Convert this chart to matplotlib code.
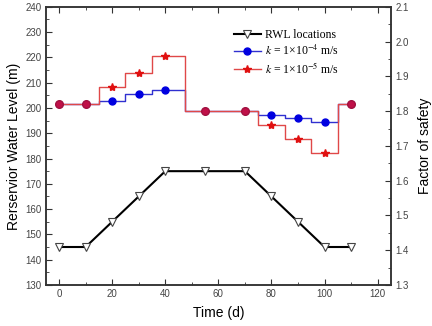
import matplotlib.pyplot as plt
from matplotlib.ticker import MultipleLocator

plt.rcParams['font.family'] = ['Liberation Sans', 'DejaVu Sans']
plt.rcParams['mathtext.fontset'] = 'stix'

time = [0, 10, 20, 30, 40, 55, 70, 80, 90, 100, 110]
rwl = [145, 145, 155, 165, 175, 175, 175, 165, 155, 145, 145]
fs_k4 = [1.82, 1.82, 1.83, 1.85, 1.86, 1.80, 1.80, 1.79, 1.78, 1.77, 1.82]
fs_k5 = [1.82, 1.82, 1.87, 1.91, 1.96, 1.80, 1.80, 1.76, 1.72, 1.68, 1.82]
shared = [0, 1, 5, 6, 10]
own = [2, 3, 4, 7, 8, 9]

fig = plt.figure(figsize=(4.32, 3.26), dpi=100)
ax = fig.add_axes([0.106, 0.126, 0.799, 0.853])
ax2 = ax.twinx()

ln1, = ax.plot(time, rwl, color='black', lw=1.5, marker='v', ms=6,
               mfc='white', mec='#444444', mew=0.8)

ln2, = ax2.plot(time, fs_k4, color='#3030d0', lw=1.0, drawstyle='steps-mid',
                marker='o', ms=5, mfc='#0000e0', mec='#0000e0', markevery=own)
ln3, = ax2.plot(time, fs_k5, color='#e04848', lw=1.0, drawstyle='steps-mid',
                marker='*', ms=6, mfc='#e01010', mec='#e01010', markevery=own)
ax2.plot([time[i] for i in shared], [fs_k5[i] for i in shared], ls='none',
         marker='o', ms=5.5, mfc='#c01048', mec='#a01040')

ax.set_xlim(-5, 125)
ax.set_ylim(130, 240)
ax2.set_ylim(1.3, 2.1)
ax.xaxis.set_major_locator(MultipleLocator(20))
ax.xaxis.set_minor_locator(MultipleLocator(10))
ax.yaxis.set_major_locator(MultipleLocator(10))
ax.yaxis.set_minor_locator(MultipleLocator(5))
ax2.yaxis.set_major_locator(MultipleLocator(0.1))
ax2.yaxis.set_minor_locator(MultipleLocator(0.05))

for a in (ax, ax2):
    a.tick_params(which='both', direction='in', labelsize=7, colors='#333333',
                  labelcolor='#444444', pad=3)
    a.tick_params(which='major', length=4)
    a.tick_params(which='minor', length=2)
    for s in a.spines.values():
        s.set_linewidth(1.1)
        s.set_color('#333333')
ax.tick_params(which='both', top=True)

ax.set_xlabel('Time (d)', fontsize=10, labelpad=5)
ax.set_ylabel('Rerservior Water Level (m)', fontsize=10, labelpad=3)
ax2.set_ylabel('Factor of safety', fontsize=10, labelpad=7)

ax.legend([ln1, ln2, ln3],
          ['RWL locations', r'$k$ = 1×10$^{-4}$ m/s', r'$k$ = 1×10$^{-5}$ m/s'],
          loc='upper left', bbox_to_anchor=(0.52, 0.95), frameon=False,
          prop={'family': 'Liberation Serif', 'size': 8.5}, handlelength=2.3,
          labelspacing=0.25, borderpad=0.2, handletextpad=0.4)

fig.savefig('out.png', dpi=100)
